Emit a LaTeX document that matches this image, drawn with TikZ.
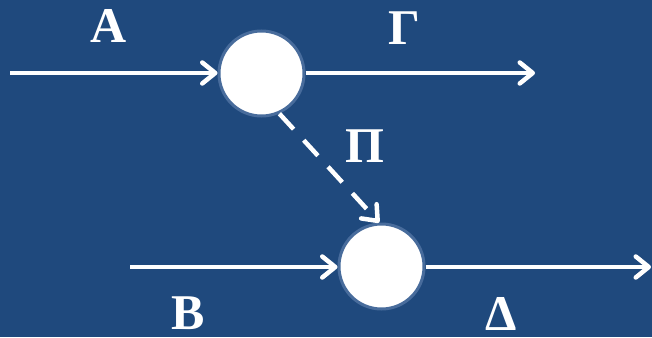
\documentclass[tikz,border=0pt]{standalone}
\usepackage{fontspec}
\setmainfont{Liberation Serif}
\usetikzlibrary{positioning,arrows.meta,calc}
\definecolor{slide}{RGB}{31,73,125}
\definecolor{ring}{RGB}{72,108,156}

\begin{document}
\begin{tikzpicture}
  [
      x=1pt, y=-1pt,
      junction/.style={circle, fill=white, draw=ring, line width=3pt, minimum size=85pt, inner sep=0pt},
      flow/.style={white, line width=4.5pt, -{Straight Barb[length=13pt, width=21pt, round]}},
      greek/.style={text=white, font=\fontsize{50}{50}\selectfont\bfseries, inner sep=0pt}
    ]
    \fill [slide] (0,0) rectangle (652,337);
    \useasboundingbox (0,0) rectangle (652,337);
    \node (top) [junction] at (261.5,73.5) {};
    \node (bottom) [junction] at (381.5,266.5) {};
    \coordinate (inA) at (10,73);
    \coordinate (outG) at (535,73);
    \coordinate (inB) at (130,267);
    \coordinate (outD) at (651,267);
    \foreach \i/\j in {inA/top,inB/bottom}
      \draw [flow] (\i) -- (\i -| \j.west);
    \draw [flow] (top.east |- outG) -- (outG);
    \draw [flow] (bottom.east |- outD) -- (outD);
    \draw [flow, dash pattern=on 21pt off 15pt] (top.-66) -- (bottom.93);
    \node (A) [greek] at (108.5,25.5) {A};
    \node (G) [greek] at (404,28.5) {Γ};
    \node (P) [greek] at (365,146) {Π};
    \node (B) [greek] at (188,313) {B};
    \node (D) [greek] at (501,313.5) {Δ};
  \end{tikzpicture}
\end{document}
